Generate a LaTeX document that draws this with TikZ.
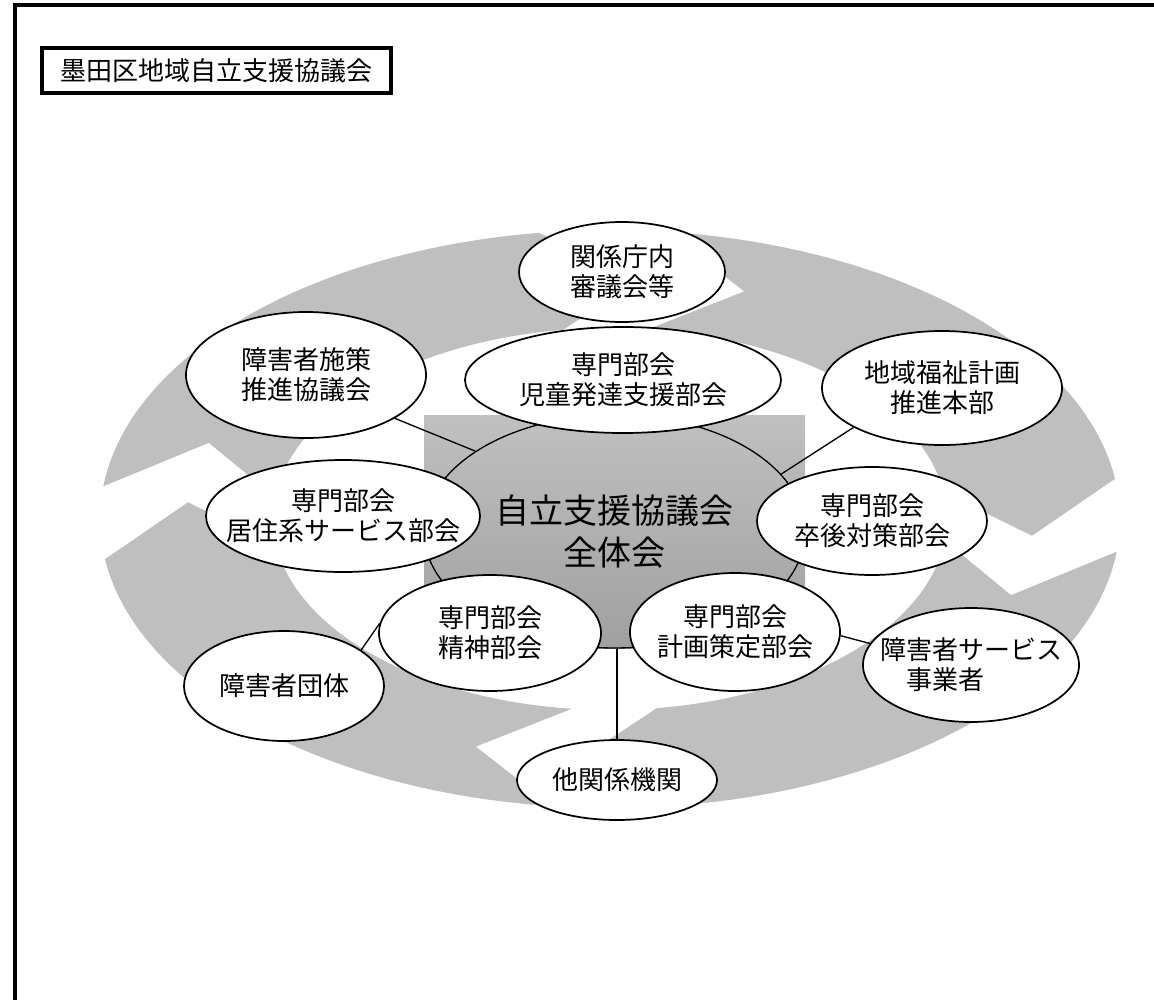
\documentclass[tikz,border=0pt]{standalone}
\usepackage{fontspec}
\setmainfont{Noto Sans CJK JP}
\usetikzlibrary{shapes.geometric}
\definecolor{ringgray}{RGB}{191,191,191}
\definecolor{boxtop}{RGB}{192,192,192}
\definecolor{boxbottom}{RGB}{160,160,160}

\begin{document}
\begin{tikzpicture}[
  x=0.75pt, y=-0.75pt,
  bubble/.style={ellipse, draw=black, line width=1.3pt, fill=white,
                 inner sep=-60pt, align=center,
                 font=\fontsize{19.5}{22.5}\selectfont},
  link/.style={line width=1pt},
  frameline/.style={line width=2.3pt},
]
  \useasboundingbox (0,0) rectangle (1154,1000);

  % outer frame and title
  \draw[frameline] (15,1000) -- (15,5) -- (1154,5);
  \node[draw, frameline, minimum width=261.75pt, minimum height=33.75pt,
        inner sep=0pt, font=\fontsize{19.5}{22}\selectfont]
    (title) at (216.5,70.5) {墨田区地域自立支援協議会};

  % ring of four chevron arrows
  \foreach \a in {6.5,96.5,186.5,276.5}{
    \pgfmathsetmacro\b{\a+75.5}
    \fill[ringgray] plot[domain=\a:\b, samples=40] ({610+510*cos(\x)},{519+289*sin(\x)})
      -- ({610+423*cos(\b+12)},{519+240*sin(\b+12)})
      -- plot[domain=\b:\a, samples=40] ({610+337*cos(\x)},{519+191*sin(\x)})
      -- ({610+423*cos(\a+12)},{519+240*sin(\a+12)}) -- cycle;
  }

  % centre
  \shade[top color=boxtop, bottom color=boxbottom] (424,415) rectangle (805,648);
  \node[ellipse, draw, line width=1pt, minimum width=285.75pt, minimum height=174.75pt,
        inner sep=-80pt, align=center, font=\fontsize{25.5}{31.5}\selectfont]
    (zentai) at (614.5,531.5) {自立支援協議会\\全体会};

  % bubbles
  \node[bubble, minimum width=154.5pt, minimum height=75pt]   (kankei)  at (622,272) {関係庁内\\審議会等};
  \node[bubble, minimum width=180pt, minimum height=94.5pt]   (shisaku) at (306,375) {障害者施策\\推進協議会};
  \node[bubble, minimum width=237pt, minimum height=79.5pt]   (jido)    at (623,380) {専門部会\\児童発達支援部会};
  \node[bubble, minimum width=180pt, minimum height=85.5pt]   (chiiki)  at (942,388) {地域福祉計画\\推進本部};
  \node[bubble, minimum width=205.5pt, minimum height=84pt]   (kyoju)   at (343,516) {専門部会\\居住系サービス部会};
  \node[bubble, minimum width=172.5pt, minimum height=81pt]   (sotsugo) at (872,521) {専門部会\\卒後対策部会};
  \node[bubble, minimum width=166.5pt, minimum height=87pt]   (seishin) at (490,633) {専門部会\\精神部会};
  \node[bubble, minimum width=157.5pt, minimum height=88.5pt] (keikaku) at (735,632) {専門部会\\計画策定部会};
  \node[bubble, minimum width=150pt, minimum height=82.5pt]   (dantai)  at (284,686) {障害者団体};
  \node[bubble, minimum width=162pt, minimum height=85.5pt, align=left]
    (service) at (971,665) {障害者サービス\\\hspace*{1em}事業者};
  \node[bubble, minimum width=150pt, minimum height=60pt]     (tako)    at (617,780) {他関係機関};

  % links
  \draw[link] (shisaku.334) -- (zentai.150);
  \draw[link] (chiiki.204) -- (zentai.19);
  \draw[link] (dantai.25) -- (seishin.175);
  \draw[link] (keikaku.358) -- (service.168);
  \draw[link] (tako.north) -- (tako.north |- zentai.south);
\end{tikzpicture}
\end{document}
